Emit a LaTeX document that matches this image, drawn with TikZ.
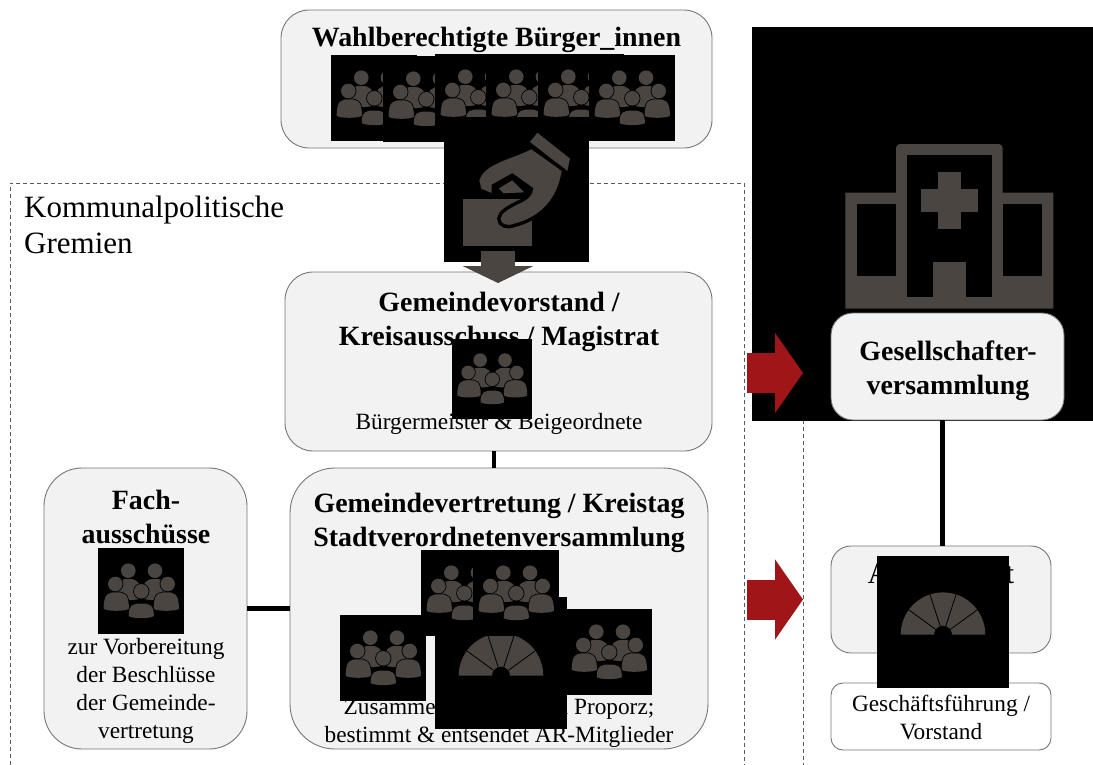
\documentclass[tikz,border=0pt]{standalone}
\usepackage{fontspec}
\setmainfont{Liberation Serif}
\usetikzlibrary{arrows.meta}
\definecolor{iconbrown}{HTML}{4A4541}
\definecolor{boxgrey}{HTML}{F2F2F2}
\definecolor{boxline}{HTML}{7A7570}
\definecolor{arrowred}{HTML}{A01518}
\newcommand{\crowdbody}[3]{
  \fill[iconbrown,preaction={draw=black,line width=1.6pt}] ({#1-12.6},{#3-2}) .. controls ({#1-12.6},{#2+1}) and ({#1-8},#2) .. (#1,#2) .. controls ({#1+8},#2) and ({#1+12.6},{#2+1}) .. ({#1+12.6},{#3-2}) .. controls ({#1+10},{#3+.8}) and ({#1-10},{#3+.8}) .. cycle;
}
\tikzset{
  x=1pt,y=-1pt,
  gremium/.style={draw=boxline,fill=boxgrey,line width=.9pt,rounded corners=#1,anchor=north west,inner sep=0pt,outer sep=0pt},
  gremium/.default=28pt,
  frame/.style={draw=black!65,line width=.9pt,dash pattern=on 4pt off 3pt,anchor=north west,inner sep=0pt,outer sep=0pt},
  head/.style={font=\fontsize{27.9}{34.5}\bfseries\selectfont,align=center,inner sep=0pt},
  sub/.style={font=\fontsize{23.3}{28}\selectfont,align=center,inner sep=0pt},
  bar/.style={draw=black,line width=4.5pt},
  redarrow/.style={draw=arrowred,line width=40pt,-{Triangle[width=79pt,length=28pt,fill=arrowred]},shorten >=0pt},
  crowd/.pic={
    \fill[black] (0,0) rectangle (86,86);
    \crowdbody{30.3}{31}{52}
    \crowdbody{57}{31}{52}
    \fill[iconbrown] (30.3,22.7) circle[radius=7.3];
    \fill[iconbrown] (57,22.7) circle[radius=7.3];
    \crowdbody{18.3}{44.3}{62.7}
    \crowdbody{68.3}{44.3}{62.7}
    \fill[iconbrown,preaction={draw=black,line width=1.6pt}] (17.3,36) circle[radius=7.3];
    \fill[iconbrown,preaction={draw=black,line width=1.6pt}] (69.7,36) circle[radius=7.3];
    \crowdbody{43.3}{55.5}{70}
    \fill[iconbrown,preaction={draw=black,line width=1.6pt}] (43.3,43.3) circle[radius=7.3];
  },
  senate/.pic={
    \fill[black] (0,0) rectangle (132,132);
    \fill[iconbrown] plot[domain=0:180,samples=40] ({66+42.3*cos(\x)},{78.7-42.3*sin(\x)}) -- plot[domain=180:0,samples=20] ({66+9*cos(\x)},{78.7-9*sin(\x)}) -- cycle;
    \foreach \a in {36,72,108,144}
      \draw[black,line width=.8pt] ({66+9*cos(\a)},{78.7-9*sin(\a)}) -- ({66+42.3*cos(\a)},{78.7-42.3*sin(\a)});
  },
  ballot/.pic={
    \fill[black] (0,0) rectangle (145,145);
    \begin{scope}[scale=1/3]
      \fill[iconbrown] (280,47) -- (378,125) -- (370,162) -- (258,75) -- cycle;
      \fill[iconbrown] (56,247) rectangle (263,387);
      \fill[iconbrown,preaction={draw=black,line width=7pt}] (262,97) .. controls (200,128) and (122,140) .. (106,190) -- (112,215) -- (143,228) -- (143,203) -- (205,168) -- (268,213) .. controls (268,235) and (250,250) .. (222,262) .. controls (195,275) and (170,290) .. (170,305) .. controls (170,322) and (190,328) .. (210,320) .. controls (265,305) and (335,270) .. (353,162) -- cycle;
      \fill[iconbrown] (165,214) -- (205,190) -- (241,226) -- (178,229) -- cycle;
    \end{scope}
  }
}
\begin{document}
\begin{tikzpicture}
\useasboundingbox (0,0) rectangle (1093,764);
\node[frame,minimum width=734,minimum height=600] (kommunal) at (10,183) {};
\node[frame,minimum width=400,minimum height=700] (unternehmen) at (803,100) {};
\node[anchor=north west,font=\fontsize{31}{36}\selectfont,align=left,inner sep=0pt] (kommunaltext) at (24,196) {Kommunalpolitische\\Gremien};
\node[gremium,minimum width=431,minimum height=138] (wahl) at (281,10) {};
\node[gremium,minimum width=427,minimum height=179] (vorstand) at (285,272) {};
\node[gremium=45pt,minimum width=418,minimum height=281] (vertretung) at (290,468) {};
\node[gremium=38pt,minimum width=203,minimum height=281] (fach) at (44,468) {};
\node[gremium=20pt,minimum width=220,minimum height=107] (aufsicht) at (831,546) {};
\node[gremium=12pt,fill=white,minimum width=220,minimum height=67] (fuehrung) at (831,683) {};
\node[head] (wahltext) at (496.5,39.5) {Wahlberechtigte Bürger\_innen};
\node[head] (vorstandtext) at (499,322) {Gemeindevorstand /\\Kreisausschuss / Magistrat};
\node[sub] (vorstandsub) at (499,424) {Bürgermeister \& Beigeordnete};
\node[head] (vertretungtext) at (499,523) {Gemeindevertretung / Kreistag\\Stadtverordnetenversammlung};
\node[sub] (vertretungsub) at (499,723) {Zusammensetzung nach Proporz;\\bestimmt \& entsendet AR-Mitglieder};
\node[head] (fachtext) at (146,517) {Fach-\\ausschüsse};
\node[sub] (fachsub) at (146,691) {zur Vorbereitung\\der Beschlüsse\\der Gemeinde-\\vertretung};
\node[font=\fontsize{30}{36}\selectfont,inner sep=0pt] (aufsichttext) at (941,573) {Aufsichtsrat};
\node[sub] (fuehrungtext) at (941,717) {Geschäftsführung /\\Vorstand};
\draw[bar] ([xshift=-4.5pt]vorstand.south) -- ([xshift=-5pt]vertretung.north);
\draw[bar] (fach.east) -- (vertretung.west);
\foreach \px/\py in {331/55,383/56,435/54,486/54,538/54,589/55}
  \pic at (\px,\py) {crowd};
\pic at (444,117) {ballot};
\pic[scale=.93] at (452,339) {crowd};
\pic at (98,548) {crowd};
\pic at (435,597) {senate};
\pic at (421,550) {crowd};
\pic at (473,550) {crowd};
\pic at (340,615) {crowd};
\pic at (566,609) {crowd};
\pic at (877,556) {senate};
\fill[black] (752,27) rectangle (1093,421);
\begin{scope}[shift={(740,20)},scale=1/3]
  \fill[iconbrown] (316,518) -- (468,518) -- (468,382) [rounded corners=4pt] -- (468,372) -- (788,372) [sharp corners] -- (788,518) -- (940,518) -- (940,866) -- (316,866) -- cycle;
  \fill[black] (350,552) rectangle (468,768);
  \fill[black] (788,552) rectangle (906,768);
  \fill[black] (500,405) rectangle (755,832);
  \fill[iconbrown] (580,727) rectangle (677,832);
  \fill[iconbrown] (595,457) rectangle (662,627);
  \fill[iconbrown] (543,508) rectangle (713,575);
\end{scope}
\node[gremium=22pt,minimum width=233,minimum height=107] (gesellschaft) at (831,313) {};
\node[head] (gesellschafttext) at (948,370.5) {Gesellschafter-\\versammlung};
\draw[bar,line width=5pt] ([xshift=-5.5pt]gesellschaft.south) -- ([xshift=1pt]aufsicht.north);
\coordinate (stimmeA) at (498,251);
\coordinate (stimmeB) at (498,283);
\draw[draw=iconbrown,line width=34pt,-{Triangle[width=70pt,length=17pt,fill=iconbrown]}] (stimmeA) -- (stimmeB);
\coordinate (rotA) at (747,373);
\coordinate (rotB) at (803,373);
\coordinate (rotC) at (747,599.5);
\coordinate (rotD) at (803,599.5);
\draw[redarrow] (rotA) -- (rotB);
\draw[redarrow] (rotC) -- (rotD);
\end{tikzpicture}
\end{document}
